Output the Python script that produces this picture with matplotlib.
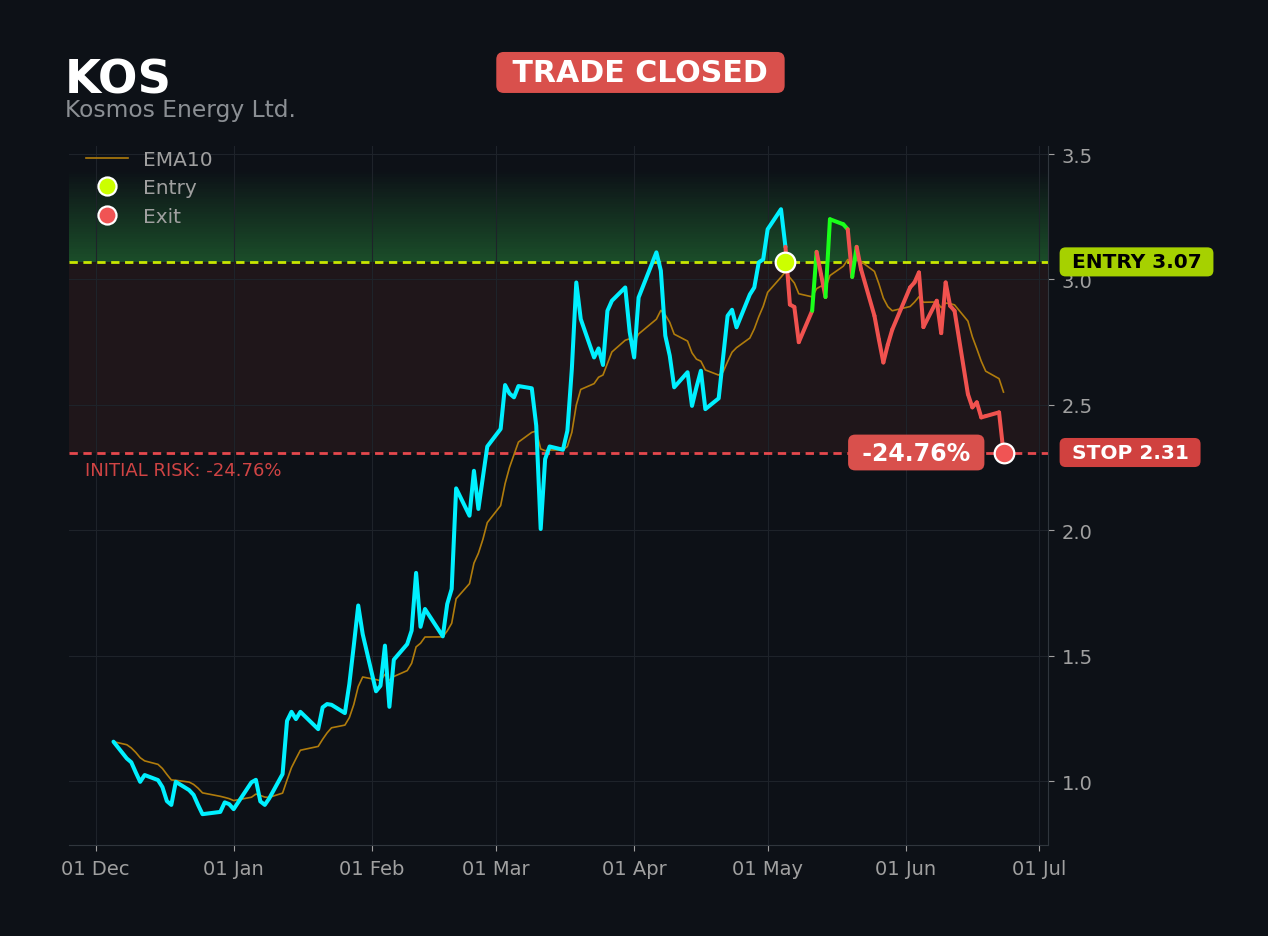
import numpy as np
import pandas as pd
import matplotlib
matplotlib.use("Agg")
import matplotlib.pyplot as plt
import matplotlib.dates as mdates
import matplotlib.transforms as mtransforms
from matplotlib.lines import Line2D

# Trade setup
ticker = "KOS"
company = "Kosmos Energy Ltd."
status = "TRADE CLOSED"
entry_price = 3.07
stop_price = 2.31
entry_day = "2021-05-04"

holidays = ["2020-12-25", "2021-01-01", "2021-01-18", "2021-02-15",
            "2021-04-02", "2021-05-31"]

# Daily closes, one list per month
closes_dec = [1.157, 1.09, 1.075, 1.035, 0.997, 1.024, 1.004, 0.976, 0.920, 0.905,
              0.997, 0.964, 0.945, 0.905, 0.868, 0.877, 0.915, 0.908, 0.888]
closes_jan = [0.995, 1.005, 0.919, 0.905, 0.931, 1.028, 1.24, 1.276, 1.247, 1.276,
              1.207, 1.294, 1.307, 1.304, 1.271, 1.387, 1.54, 1.70, 1.586]
closes_feb = [1.358, 1.38, 1.54, 1.296, 1.484, 1.546, 1.60, 1.83, 1.615, 1.686,
              1.577, 1.706, 1.766, 2.167, 2.058, 2.237, 2.085, 2.21, 2.334]
closes_mar = [2.404, 2.579, 2.545, 2.53, 2.575, 2.566, 2.417, 2.005, 2.284, 2.334,
              2.321, 2.397, 2.643, 2.988, 2.842, 2.689, 2.725, 2.659, 2.875, 2.915,
              2.968, 2.79, 2.689]
closes_apr = [2.928, 3.108, 3.035, 2.776, 2.696, 2.57, 2.63, 2.496, 2.57, 2.636,
              2.483, 2.526, 2.69, 2.855, 2.879, 2.809, 2.94, 2.968, 3.068, 3.08,
              3.20]
closes_may = [3.28, 3.13, 2.90, 2.89, 2.75, 2.875, 3.11, 3.02, 2.93, 3.24,
              3.22, 3.20, 3.01, 3.13, 3.04, 2.855, 2.76, 2.669, 2.74, 2.80]
closes_jun = [2.968, 2.988, 3.028, 2.81, 2.915, 2.786, 2.988, 2.895, 2.875, 2.543,
              2.49, 2.51, 2.45, 2.455, 2.47, 2.31]

closes = closes_dec + closes_jan + closes_feb + closes_mar + closes_apr + closes_may + closes_jun

days = pd.bdate_range("2020-12-04", "2021-06-22", freq="C", holidays=holidays)
# the feed stamps every bar on the following calendar day
dates = days + pd.Timedelta(days=1)
close = pd.Series(closes, index=dates)
ema10 = close.ewm(span=10, adjust=False).mean()

i_entry = int(np.where(days == pd.Timestamp(entry_day))[0][0])
entry_date = dates[i_entry]
exit_date = dates[-1]
risk_pct = (stop_price / entry_price - 1) * 100

# Colours
BG = "#0d1117"
GRID = "#1e232a"
TXT = "#a0a0a0"
CYAN = "#00f0ff"
RED = "#f0524f"
GREEN = "#1aff1a"
EMA_C = "#b07c0c"
ENTRY_C = "#c8e600"
STOP_C = "#e5484d"

fig = plt.figure(figsize=(12.68, 9.37), dpi=100, facecolor=BG)
ax = fig.add_axes([0.0544, 0.0971, 0.7721, 0.7460])
ax.set_facecolor(BG)

# risk zone and fading green zone above entry
ax.axhspan(stop_price, entry_price, color="#f85149", alpha=0.08, lw=0, zorder=0)
n_bands = 36
edges = np.linspace(entry_price, entry_price + 0.36, n_bands + 1)
for k in range(n_bands):
    ax.axhspan(edges[k], edges[k + 1], color="#2ea043", alpha=0.42 * (1 - k / n_bands),
               lw=0, zorder=0)

ax.axhline(entry_price, color=ENTRY_C, lw=2, ls=(0, (3, 2)), zorder=2)
ax.axhline(stop_price, color=STOP_C, lw=2, ls=(0, (3, 2)), zorder=2)

# EMA and price
ax.plot(dates, ema10, color=EMA_C, lw=1.2, zorder=3)
ax.plot(dates[:i_entry + 1], closes[:i_entry + 1], color=CYAN, lw=2.9, zorder=4,
        solid_capstyle="round")
for j in range(i_entry, len(closes) - 1):
    seg_c = GREEN if closes[j + 1] > entry_price else RED
    ax.plot(dates[j:j + 2], closes[j:j + 2], color=seg_c, lw=2.9, zorder=5,
            solid_capstyle="round")

ax.scatter([entry_date], [entry_price], s=200, color="#ccff00", edgecolor="white",
           linewidth=1.6, zorder=7)
ax.scatter([exit_date], [stop_price], s=200, color="#f05454", edgecolor="white",
           linewidth=1.6, zorder=7)

# axes styling
ax.set_xlim(dates[0] - pd.Timedelta(days=10), dates[-1] + pd.Timedelta(days=10))
ax.set_ylim(0.745, 3.532)
ax.set_yticks([1.0, 1.5, 2.0, 2.5, 3.0, 3.5])
ax.yaxis.set_major_formatter(matplotlib.ticker.FormatStrFormatter("%.1f"))
ax.yaxis.tick_right()
ax.xaxis.set_major_locator(mdates.MonthLocator())
ax.xaxis.set_major_formatter(mdates.DateFormatter("%d %b"))
ax.tick_params(axis="both", colors=TXT, labelsize=14, length=4, width=0.8)
ax.tick_params(axis="x", pad=6)
ax.tick_params(axis="y", pad=6)
ax.grid(True, color=GRID, lw=0.8)
for side in ["left", "top"]:
    ax.spines[side].set_visible(False)
for side in ["right", "bottom"]:
    ax.spines[side].set_color("#30363d")

# legend
handles = [
    Line2D([0], [0], color=EMA_C, lw=1.2, label="EMA10"),
    Line2D([0], [0], ls="none", marker="o", markersize=13, markerfacecolor="#ccff00",
           markeredgecolor="white", markeredgewidth=1.6, label="Entry"),
    Line2D([0], [0], ls="none", marker="o", markersize=13, markerfacecolor="#f05454",
           markeredgecolor="white", markeredgewidth=1.6, label="Exit"),
]
leg = ax.legend(handles=handles, loc="upper left", bbox_to_anchor=(-0.001, 1.02),
                frameon=False, fontsize=14.5, labelcolor=TXT, handlelength=2.1,
                handletextpad=0.7, labelspacing=0.46)

# price badges on the right
trans = mtransforms.blended_transform_factory(ax.transAxes, ax.transData)
ax.text(1.017, entry_price, f" ENTRY {entry_price:.2f} ", transform=trans, ha="left",
        va="center", fontsize=14.5, fontweight="bold", color="black",
        bbox=dict(boxstyle="round,pad=0.25,rounding_size=0.3", fc="#a6d100", ec="none"))
ax.text(1.017, stop_price, f" STOP {stop_price:.2f} ", transform=trans, ha="left",
        va="center", fontsize=14.5, fontweight="bold", color="white",
        bbox=dict(boxstyle="round,pad=0.25,rounding_size=0.3", fc="#d0413f", ec="none"))
ax.annotate(f" {risk_pct:.2f}% ", xy=(exit_date, stop_price), xytext=(-25, 0),
            textcoords="offset pixels", ha="right", va="center", fontsize=17,
            fontweight="bold", color="white", zorder=8,
            bbox=dict(boxstyle="round,pad=0.25,rounding_size=0.3", fc="#d9504c", ec="none"))
ax.annotate(f"INITIAL RISK: {risk_pct:.2f}%", xy=(0.016, stop_price), xycoords=trans,
            xytext=(0, -17), textcoords="offset pixels", ha="left", va="center",
            fontsize=13, color="#d04444")

# header
fig.text(0.0513, 0.9005, ticker, fontsize=33.5, fontweight="bold", color="white",
         va="baseline")
fig.text(0.0513, 0.8755, company, fontsize=16.8, color="#8b8f94", va="baseline")
fig.text(0.5051, 0.9216, f" {status} ", fontsize=21.6, fontweight="bold", color="white",
         ha="center", va="center",
         bbox=dict(boxstyle="round,pad=0.2,rounding_size=0.25", fc="#d9504c", ec="none"))

fig.savefig("out.png", dpi=100, facecolor=BG)
